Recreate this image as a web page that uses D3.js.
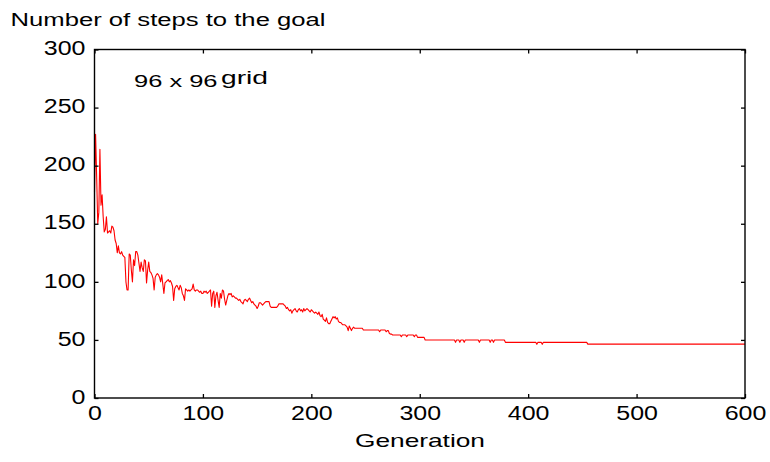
<!DOCTYPE html>
<html><head><meta charset="utf-8">
<script src="https://cdn.jsdelivr.net/npm/d3@7"></script>
<style>
body{margin:0;background:#fff}
svg text{font-family:"Liberation Sans",Arial,Helvetica,sans-serif;fill:#000}
</style>
</head><body>
<svg id="c" width="770" height="462"></svg>
<script>
const title = "Number of steps to the goal";
const xLabel = "Generation";
const noteMain = "96 x 96";
const noteGrid = "grid";
const xTicks = [0,100,200,300,400,500,600];
const yTicks = [0,50,100,150,200,250,300];
// number of steps per generation (index = generation 0..600)
const steps = [
177,227,190,150,160,214,166,175,156,143,145,156,142,143,144,142,148,147,144,136,
133,125,131,125,124,126,123,122,121,100,93,93,124,123,110,100,119,114,126,126,
123,116,109,117,112,109,119,118,99,110,117,109,108,106,103,93,104,106,107,106,
104,100,106,98,90,99,100,101,102,100,101,99,96,84,94,96,97,95,93,97,
95,90,88,84,94,93,92,93,92,93,94,98,93,92,93,93,92,91,92,90,
90,92,91,92,90,91,92,93,79,90,92,78,88,91,84,78,90,86,93,92,
85,80,84,88,90,89,90,87,88,87,86,86,85,84,85,83,82,81,84,85,
84,83,85,86,84,82,83,81,80,79,77,79,82,82,81,80,81,82,83,83,
83,83,79,78,78,78,78,78,78,79,81,81,81,81,81,80,79,77,78,76,
75,76,73,75,76,77,75,74,76,77,75,76,74,77,75,76,77,76,75,74,
76,75,74,73,74,73,72,74,71,70,72,68,67,66,69,65,64,64,66,68,
70,69,70,68,69,66,65,65,64,63,63,63,62,61,58,62,60,58,60,61,
60,60,60,60,60,60,60,60,58.5,58.5,58.5,58.5,58.5,58.5,58.5,58.5,58.5,58.5,58.5,58.5,
58.5,58.5,58.5,57,58.5,58.5,58.5,58.5,58.5,57,58,58,55.5,55,55,54.2,54.2,54.2,54.2,54.2,
54.2,54.2,54.2,52.7,54.2,54.2,54.2,54.2,52.7,54.2,54.2,54.2,54.2,54.2,54.2,52.7,54.2,54.2,52.2,52.2,
52.2,52.2,52.2,52.2,52.2,49.9,49.9,49.9,49.9,49.9,49.9,49.9,49.9,49.9,49.9,49.9,49.9,49.9,49.9,49.9,
49.9,49.9,49.9,49.9,49.9,49.9,49.9,49.9,49.9,49.9,49.9,49.9,49.9,47.9,49.9,49.9,49.9,47.9,49.9,49.9,
49.9,47.9,49.9,49.9,49.9,49.9,49.9,49.9,49.9,49.9,49.9,49.9,49.9,49.9,49.9,47.9,49.9,49.9,49.9,49.9,
49.9,49.9,49.9,49.9,49.9,47.9,49.9,49.9,47.9,49.9,49.9,49.9,49.9,49.9,49.9,49.9,49.9,49.9,49.9,47.9,
47.9,47.9,47.9,47.9,47.9,47.9,47.9,47.9,47.9,47.9,47.9,47.9,47.9,47.9,47.9,47.9,47.9,47.9,47.9,47.9,
47.9,47.9,47.9,47.9,47.9,47.9,47.9,47.9,46.2,47.9,47.9,47.9,47.9,46.2,47.9,47.9,47.9,47.9,47.9,47.9,
47.9,47.9,47.9,47.9,47.9,47.9,47.9,47.9,47.9,47.9,47.9,47.9,47.9,47.9,47.9,47.9,47.9,47.9,47.9,47.9,
47.9,47.9,47.9,47.9,47.9,47.9,47.9,47.9,47.9,47.9,47.9,47.9,47.9,47.9,47.9,46.4,46.4,46.4,46.4,46.4,
46.4,46.4,46.4,46.4,46.4,46.4,46.4,46.4,46.4,46.4,46.4,46.4,46.4,46.4,46.4,46.4,46.4,46.4,46.4,46.4,
46.4,46.4,46.4,46.4,46.4,46.4,46.4,46.4,46.4,46.4,46.4,46.4,46.4,46.4,46.4,46.4,46.4,46.4,46.4,46.4,
46.4,46.4,46.4,46.4,46.4,46.4,46.4,46.4,46.4,46.4,46.4,46.4,46.4,46.4,46.4,46.4,46.4,46.4,46.4,46.4,
46.4,46.4,46.4,46.4,46.4,46.4,46.4,46.4,46.4,46.4,46.4,46.4,46.4,46.4,46.4,46.4,46.4,46.4,46.4,46.4,
46.4,46.4,46.4,46.4,46.4,46.4,46.4,46.4,46.4,46.4,46.4,46.4,46.4,46.4,46.4,46.4,46.4,46.4,46.4,46.4,
46.4,46.4,46.4,46.4,46.4,46.4,46.4,46.4,46.4,46.4,46.4,46.4,46.4,46.4,46.4,46.4,46.4,46.4,46.4,46.4,
46.4,46.4,46.4,46.4,46.4,46.4,46.4,46.4,46.4,46.4,46.4,46.4,46.4,46.4,46.4,46.4,46.4,46.4,46.4,46.4,
46.4
];

const svg = d3.select("#c");
const L = 94.5, R = 745, T = 49.5, B = 398;
const x = d3.scaleLinear().domain([0, 600]).range([L, R]);
const y = d3.scaleLinear().domain([0, 300]).range([B, T]);

// data line
const line = d3.line().x((d, i) => x(i)).y(d => y(d));
svg.append("path").datum(steps)
  .attr("d", line).attr("fill", "none")
  .attr("stroke", "#ff0000").attr("stroke-width", 1.1)
  .attr("stroke-linejoin", "round");

const tickLen = 4;
const digitW = 13.9;
function styleAxis(g){
  g.select(".domain").remove();
  g.selectAll(".tick line").attr("stroke", "#000").attr("stroke-width", 1.3);
}
// bottom axis
svg.append("g").attr("transform", `translate(0,${B})`)
  .call(d3.axisBottom(x).tickValues(xTicks).tickSize(-tickLen).tickSizeOuter(0).tickPadding(0).tickFormat(d3.format("d")))
  .call(styleAxis)
  .call(g => g.selectAll(".tick text")
    .attr("y", 22).attr("dy", null)
    .attr("font-size", 20.5)
    .attr("textLength", d => String(d).length * digitW)
    .attr("lengthAdjust", "spacingAndGlyphs"));
// top axis
svg.append("g").attr("transform", `translate(0,${T})`)
  .call(d3.axisTop(x).tickValues(xTicks).tickSize(-tickLen).tickSizeOuter(0).tickFormat(""))
  .call(styleAxis);
// left axis
svg.append("g").attr("transform", `translate(${L},0)`)
  .call(d3.axisLeft(y).tickValues(yTicks).tickSize(-tickLen).tickSizeOuter(0).tickPadding(0).tickFormat(d3.format("d")))
  .call(styleAxis)
  .call(g => g.selectAll(".tick text")
    .attr("x", -9).attr("dy", null).attr("y", 5.2)
    .attr("font-size", 20.5)
    .attr("text-anchor", "end")
    .attr("textLength", d => String(d).length * digitW)
    .attr("lengthAdjust", "spacingAndGlyphs"));
// right axis
svg.append("g").attr("transform", `translate(${R},0)`)
  .call(d3.axisRight(y).tickValues(yTicks).tickSize(-tickLen).tickSizeOuter(0).tickFormat(""))
  .call(styleAxis);

// frame
svg.append("rect").attr("x", L).attr("y", T).attr("width", R - L).attr("height", B - T)
  .attr("fill", "none").attr("stroke", "#000").attr("stroke-width", 1.4);

// texts
svg.append("text").attr("x", 10.5).attr("y", 26).attr("font-size", 17.5)
  .attr("textLength", 315).attr("lengthAdjust", "spacingAndGlyphs").text(title);
svg.append("text").attr("x", 420).attr("y", 447).attr("text-anchor", "middle").attr("font-size", 18.5)
  .attr("textLength", 130).attr("lengthAdjust", "spacingAndGlyphs").text(xLabel);
svg.append("text").attr("x", 134).attr("y", 87.3).attr("font-size", 17.2)
  .attr("textLength", 83.5).attr("lengthAdjust", "spacingAndGlyphs").text(noteMain);
svg.append("text").attr("x", 221).attr("y", 84).attr("font-size", 18)
  .attr("textLength", 47).attr("lengthAdjust", "spacingAndGlyphs").text(noteGrid);
</script>
</body></html>
